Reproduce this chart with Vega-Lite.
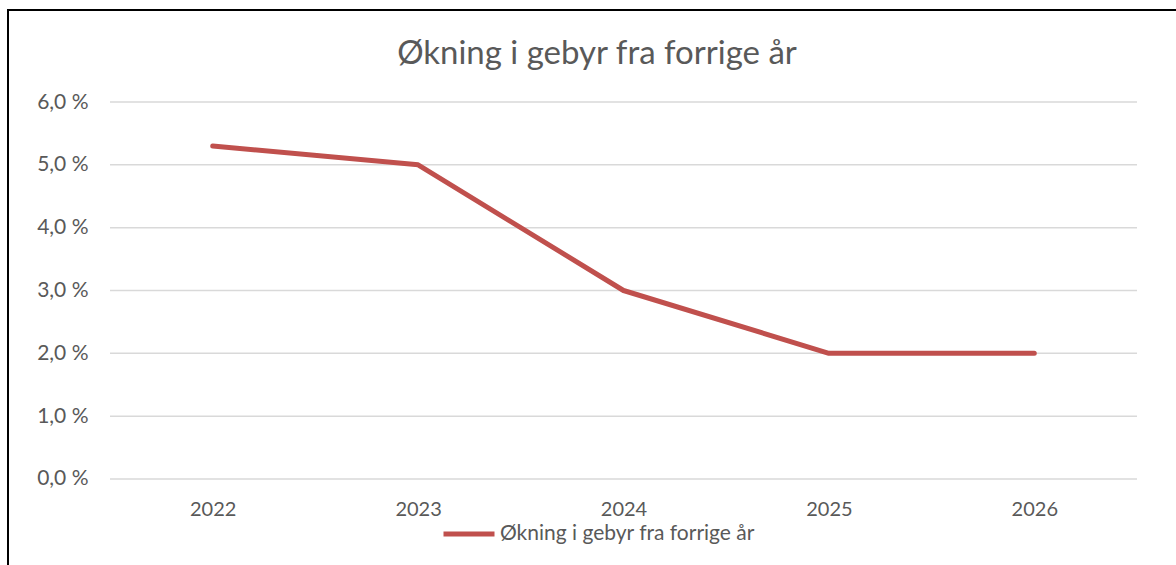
{
  "$schema": "https://vega.github.io/schema/vega-lite/v6.json",
  "width": 1170,
  "height": 557,
  "padding": {"left": 8, "top": 10, "right": 0, "bottom": 0},
  "autosize": {"type": "none"},
  "background": "white",
  "config": {"view": {"stroke": "#000000", "strokeWidth": 2}, "font": "Lato"},
  "title": {"text": "Økning i gebyr fra forrige år", "fontSize": 33, "fontWeight": "normal", "color": "#595959", "anchor": "middle", "frame": "group", "offset": 0, "baseline": "alphabetic", "dy": 87, "dx": 4, "font": "Lato"},
  "datasets": {
    "series": [
      {"year": 2022, "value": 5.3},
      {"year": 2023, "value": 5.0},
      {"year": 2024, "value": 3.0},
      {"year": 2025, "value": 2.0},
      {"year": 2026, "value": 2.0}
    ],
    "grid": [{"v": 0}, {"v": 1}, {"v": 2}, {"v": 3}, {"v": 4}, {"v": 5}, {"v": 6}]
  },
  "encoding": {
    "x": {
      "type": "quantitative",
      "scale": {"domain": [2021.0034, 2026.6996], "nice": false, "zero": false},
      "axis": {"values": [2022, 2023, 2024, 2025, 2026], "format": "d", "grid": false, "domain": false, "ticks": false, "tickSize": 0, "labelPadding": 0, "offset": -68, "labelFontSize": 20, "labelColor": "#595959", "labelFont": "Lato", "title": null, "labelFlush": false, "labelOverlap": false}
    },
    "y": {
      "type": "quantitative",
      "scale": {"domain": [-1.4006, 7.4643], "nice": false, "zero": false},
      "axis": {"values": [0, 1, 2, 3, 4, 5, 6], "labelExpr": "replace(format(datum.value, '.1f'), '.', ',') + ' %'", "grid": false, "domain": false, "ticks": false, "tickSize": 0, "labelPadding": 0, "offset": -80, "labelFontSize": 21, "labelColor": "#595959", "labelFont": "Lato", "title": null, "labelFlush": false, "labelOverlap": false}
    }
  },
  "layer": [
    {
      "data": {"name": "grid"},
      "mark": {"type": "rule", "color": "#d9d9d9", "strokeWidth": 1.5},
      "encoding": {
        "y": {"field": "v"},
        "x": {"datum": 2021.5},
        "x2": {"datum": 2026.5}
      }
    },
    {
      "data": {"name": "series"},
      "mark": {"type": "line", "strokeWidth": 5, "strokeCap": "round", "strokeJoin": "round"},
      "encoding": {
        "x": {"field": "year"},
        "y": {"field": "value"},
        "color": {
          "datum": "Økning i gebyr fra forrige år",
          "scale": {"range": ["#c0504d"]},
          "legend": {"orient": "none", "legendX": 433, "legendY": 496, "title": null, "symbolType": "stroke", "symbolSize": 2601, "symbolStrokeWidth": 5, "labelFontSize": 21, "labelColor": "#595959", "labelFont": "Lato", "labelOffset": 3, "labelLimit": 0, "padding": 0}
        }
      }
    }
  ]
}
